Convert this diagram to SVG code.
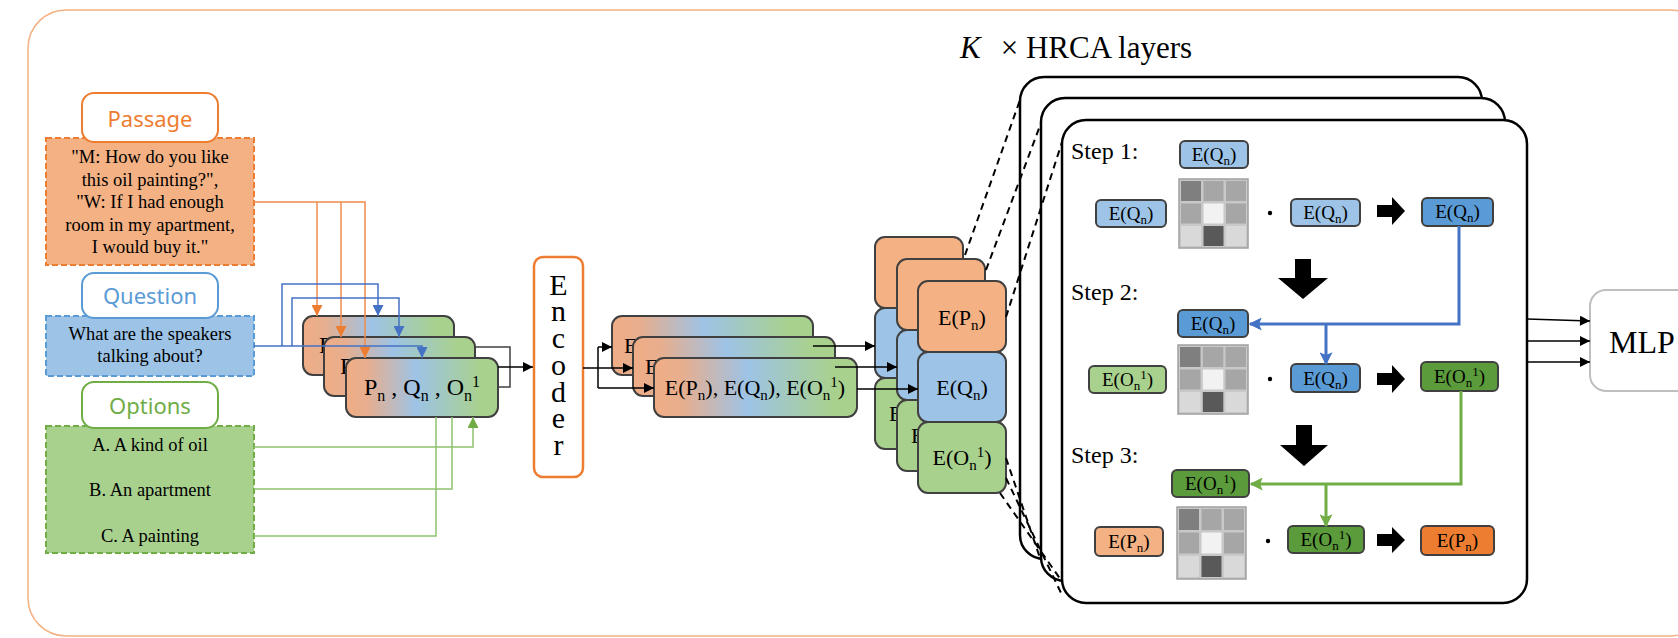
<svg xmlns="http://www.w3.org/2000/svg" width="1678" height="638" viewBox="0 0 1678 638">
<defs>
<linearGradient id="gr" x1="0" y1="0" x2="1" y2="0">
<stop offset="0" stop-color="#EFAD85"/>
<stop offset="0.14" stop-color="#E7AE8E"/>
<stop offset="0.46" stop-color="#9DC3E6"/>
<stop offset="0.88" stop-color="#A9D18E"/>
<stop offset="1" stop-color="#A9D18E"/>
</linearGradient>
<marker id="mk" viewBox="0 0 10 10" refX="10" refY="5" markerWidth="11" markerHeight="10" markerUnits="userSpaceOnUse" orient="auto"><path d="M0,0L10,5L0,10z" fill="#000"/></marker>
<marker id="mo" viewBox="0 0 10 10" refX="10" refY="5" markerWidth="11" markerHeight="11" markerUnits="userSpaceOnUse" orient="auto"><path d="M0,0L10,5L0,10z" fill="#ED7D31"/></marker>
<marker id="mb" viewBox="0 0 10 10" refX="10" refY="5" markerWidth="11" markerHeight="11" markerUnits="userSpaceOnUse" orient="auto"><path d="M0,0L10,5L0,10z" fill="#4472C4"/></marker>
<marker id="mg" viewBox="0 0 10 10" refX="10" refY="5" markerWidth="11" markerHeight="11" markerUnits="userSpaceOnUse" orient="auto"><path d="M0,0L10,5L0,10z" fill="#70AD47"/></marker>
<marker id="mbt" viewBox="0 0 10 10" refX="9" refY="5" markerWidth="13" markerHeight="13" markerUnits="userSpaceOnUse" orient="auto"><path d="M0,0L10,5L0,10L2,5z" fill="#4472C4"/></marker>
<marker id="mgt" viewBox="0 0 10 10" refX="9" refY="5" markerWidth="13" markerHeight="13" markerUnits="userSpaceOnUse" orient="auto"><path d="M0,0L10,5L0,10L2,5z" fill="#70AD47"/></marker>
</defs>
<style>
.sf{font-family:"Liberation Serif","Times New Roman",serif;fill:#000}
.ss{font-family:"Noto Sans","Liberation Sans",sans-serif}
.t18{font-size:18.5px}
.t19{font-size:19px}
.t22{font-size:22px}
.t24{font-size:24px}
.bx{stroke:#404040;stroke-width:2}
.sm{stroke:#404040;stroke-width:2}
.pan{fill:#fff;stroke:#000;stroke-width:2.5}
.lbl{fill:#fff;stroke-width:2}
.dsh{stroke-width:2;stroke-dasharray:6 3}
.cn{fill:none;stroke-width:1.5}
.cnk{fill:none;stroke:#000;stroke-width:1.5}
.dl{fill:none;stroke:#000;stroke-width:2;stroke-dasharray:7 5}
.mid{text-anchor:middle}
</style>

<rect id="frame" x="28" y="10" width="1680" height="626" rx="38" fill="none" stroke="#F4B183" stroke-width="1.5"/>

<g id="passage">
<rect x="46" y="138" width="208" height="127" fill="#F4B183" stroke="#ED7D31" class="dsh"/>
<g class="sf t18 mid">
<text x="150" y="163">"M: How do you like</text>
<text x="150" y="185.5">this oil painting?",</text>
<text x="150" y="208">"W: If I had enough</text>
<text x="150" y="230.5">room in my apartment,</text>
<text x="150" y="253">I would buy it."</text>
</g>
<rect x="82" y="93" width="136" height="49" rx="12" class="lbl" stroke="#ED7D31"/>
<text x="150" y="127" class="ss mid" font-size="22" fill="#ED7D31">Passage</text>
</g>

<g id="question">
<rect x="46" y="316" width="208" height="60" fill="#9DC3E6" stroke="#5B9BD5" class="dsh"/>
<text x="150" y="340" class="sf t18 mid">What are the speakers</text>
<text x="150" y="362" class="sf t18 mid">talking about?</text>
<rect x="82" y="273" width="136" height="45" rx="12" class="lbl" stroke="#5B9BD5"/>
<text x="150" y="304" class="ss mid" font-size="22" fill="#5B9BD5">Question</text>
</g>

<g id="options">
<rect x="46" y="426" width="208" height="127" fill="#A9D18E" stroke="#70AD47" class="dsh"/>
<text x="150" y="451" class="sf t18 mid">A. A kind of oil</text>
<text x="150" y="496" class="sf t18 mid">B. An apartment</text>
<text x="150" y="542" class="sf t18 mid">C. A painting</text>
<rect x="82" y="382" width="136" height="46" rx="12" class="lbl" stroke="#70AD47"/>
<text x="150" y="414" class="ss mid" font-size="22" fill="#70AD47">Options</text>
</g>

<g id="input-stack">
<rect x="303" y="316" width="151" height="59" rx="10" fill="url(#gr)" class="bx"/>
<text x="319" y="353" class="sf t24">P</text>
<rect x="324" y="337" width="151" height="59" rx="10" fill="url(#gr)" class="bx"/>
<text x="340" y="374" class="sf t24">P</text>
<rect x="346" y="358" width="152" height="59" rx="10" fill="url(#gr)" class="bx"/>
<text x="422" y="395" class="sf t24 mid">P<tspan dy="6" font-size="16">n</tspan><tspan dy="-6"> , Q</tspan><tspan dy="6" font-size="16">n</tspan><tspan dy="-6"> , O</tspan><tspan dy="6" font-size="16">n</tspan><tspan dy="-14" font-size="16">1</tspan></text>
</g>

<g id="encoder">
<rect x="534" y="257" width="49" height="220" rx="9" fill="#fff" stroke="#ED7D31" stroke-width="2.5"/>
<text class="sf mid" font-size="30"><tspan x="558.5" y="295">E</tspan><tspan x="558.5" y="321">n</tspan><tspan x="558.5" y="348">c</tspan><tspan x="558.5" y="375">o</tspan><tspan x="558.5" y="402">d</tspan><tspan x="558.5" y="428">e</tspan><tspan x="558.5" y="455">r</tspan></text>
</g>

<g id="encoded-stack">
<rect x="612" y="316" width="201" height="59" rx="10" fill="url(#gr)" class="bx"/>
<text x="624" y="353" class="sf t22">E</text>
<rect x="633" y="337" width="202" height="59" rx="10" fill="url(#gr)" class="bx"/>
<text x="645" y="374" class="sf t22">E</text>
<rect x="654" y="358" width="203" height="59" rx="10" fill="url(#gr)" class="bx"/>
<text x="755" y="395" class="sf t22 mid">E(P<tspan dy="5" font-size="15">n</tspan><tspan dy="-5">), E(Q</tspan><tspan dy="5" font-size="15">n</tspan><tspan dy="-5">), E(O</tspan><tspan dy="5" font-size="15">n</tspan><tspan dy="-13" font-size="15">1</tspan><tspan dy="8">)</tspan></text>
</g>

<g id="panel-1"><rect x="1020" y="77" width="462" height="482" rx="24" class="pan"/></g>
<g id="panel-2"><rect x="1041" y="98" width="464" height="483" rx="24" class="pan"/></g>
<g id="panel-3"><rect x="1062" y="120" width="465" height="483" rx="24" class="pan"/></g>

<g id="column-1">
<rect x="875" y="237" width="88" height="71" rx="10" fill="#F4B183" class="bx"/>
<rect x="875" y="308" width="88" height="70" rx="10" fill="#9DC3E6" class="bx"/>
<rect x="875" y="378" width="88" height="71" rx="10" fill="#A9D18E" class="bx"/>
<text x="889" y="421" class="sf t22">E</text>
</g>
<g id="column-2">
<rect x="897" y="259" width="88" height="71" rx="10" fill="#F4B183" class="bx"/>
<rect x="897" y="330" width="88" height="70" rx="10" fill="#9DC3E6" class="bx"/>
<rect x="897" y="400" width="88" height="71" rx="10" fill="#A9D18E" class="bx"/>
<text x="911" y="443" class="sf t22">E</text>
</g>
<g id="column-3">
<rect x="918" y="281" width="88" height="71" rx="10" fill="#F4B183" class="bx"/>
<text x="962" y="325" class="sf t22 mid">E(P<tspan dy="5" font-size="15">n</tspan><tspan dy="-5">)</tspan></text>
<rect x="918" y="352" width="88" height="70" rx="10" fill="#9DC3E6" class="bx"/>
<text x="962" y="395" class="sf t22 mid">E(Q<tspan dy="5" font-size="15">n</tspan><tspan dy="-5">)</tspan></text>
<rect x="918" y="422" width="88" height="71" rx="10" fill="#A9D18E" class="bx"/>
<text x="962" y="465" class="sf t22 mid">E(O<tspan dy="5" font-size="15">n</tspan><tspan dy="-13" font-size="15">1</tspan><tspan dy="8">)</tspan></text>
</g>

<g id="title"><text x="960" y="58" class="sf" font-size="31"><tspan font-style="italic">K</tspan><tspan dx="20">×</tspan> HRCA layers</text></g>

<g id="step-labels" class="sf t24">
<text x="1071" y="159">Step 1:</text>
<text x="1071" y="300">Step 2:</text>
<text x="1071" y="463">Step 3:</text>
</g>

<g id="step1">
<rect x="1180" y="141" width="68" height="27" rx="5" fill="#9DC3E6" class="sm"/>
<text x="1214" y="161" class="sf t19 mid">E(Q<tspan dy="4" font-size="13">n</tspan><tspan dy="-4">)</tspan></text>
<rect x="1096" y="200" width="70" height="27" rx="5" fill="#9DC3E6" class="sm"/>
<text x="1131" y="220" class="sf t19 mid">E(Q<tspan dy="4" font-size="13">n</tspan><tspan dy="-4">)</tspan></text>
<g transform="translate(1179,179)">
<rect width="69" height="69" fill="#C8C8C8" stroke="#A0A0A0" stroke-width="1.5"/>
<rect x="2" y="2" width="20" height="20" fill="#7F7F7F"/><rect x="24.5" y="2" width="20" height="20" fill="#A6A6A6"/><rect x="47" y="2" width="20" height="20" fill="#A6A6A6"/>
<rect x="2" y="24.5" width="20" height="20" fill="#A6A6A6"/><rect x="24.5" y="24.5" width="20" height="20" fill="#F2F2F2"/><rect x="47" y="24.5" width="20" height="20" fill="#A6A6A6"/>
<rect x="2" y="47" width="20" height="20" fill="#D9D9D9"/><rect x="24.5" y="47" width="20" height="20" fill="#595959"/><rect x="47" y="47" width="20" height="20" fill="#D9D9D9"/>
</g>
<circle cx="1270" cy="213" r="2.2" fill="#000"/>
<rect x="1291" y="199" width="69" height="27" rx="5" fill="#9DC3E6" class="sm"/>
<text x="1325.5" y="219" class="sf t19 mid">E(Q<tspan dy="4" font-size="13">n</tspan><tspan dy="-4">)</tspan></text>
<path d="M1377,205H1392V197L1405,211L1392,225V217H1377Z" fill="#000"/>
<rect x="1422" y="198" width="71" height="28" rx="5" fill="#5B9BD5" class="sm"/>
<text x="1457.5" y="218" class="sf t19 mid">E(Q<tspan dy="4" font-size="13">n</tspan><tspan dy="-4">)</tspan></text>
<path d="M1295,259H1311V278H1328L1303,299L1278,278H1295Z" fill="#000"/>
</g>

<g id="step2">
<rect x="1178" y="310" width="70" height="27" rx="5" fill="#5B9BD5" class="sm"/>
<text x="1213" y="330" class="sf t19 mid">E(Q<tspan dy="4" font-size="13">n</tspan><tspan dy="-4">)</tspan></text>
<rect x="1089" y="366" width="77" height="27" rx="5" fill="#A9D18E" class="sm"/>
<text x="1127.5" y="386" class="sf t19 mid">E(O<tspan dy="4" font-size="13">n</tspan><tspan dy="-11" font-size="13">1</tspan><tspan dy="7">)</tspan></text>
<g transform="translate(1178,345)">
<rect width="70" height="69" fill="#C8C8C8" stroke="#A0A0A0" stroke-width="1.5"/>
<rect x="2" y="2" width="20.5" height="20" fill="#7F7F7F"/><rect x="24.8" y="2" width="20.5" height="20" fill="#A6A6A6"/><rect x="47.5" y="2" width="20.5" height="20" fill="#A6A6A6"/>
<rect x="2" y="24.5" width="20.5" height="20" fill="#A6A6A6"/><rect x="24.8" y="24.5" width="20.5" height="20" fill="#F2F2F2"/><rect x="47.5" y="24.5" width="20.5" height="20" fill="#A6A6A6"/>
<rect x="2" y="47" width="20.5" height="20" fill="#D9D9D9"/><rect x="24.8" y="47" width="20.5" height="20" fill="#595959"/><rect x="47.5" y="47" width="20.5" height="20" fill="#D9D9D9"/>
</g>
<circle cx="1270" cy="379" r="2.2" fill="#000"/>
<rect x="1291" y="364" width="69" height="28" rx="5" fill="#5B9BD5" class="sm"/>
<text x="1325.5" y="384.5" class="sf t19 mid">E(Q<tspan dy="4" font-size="13">n</tspan><tspan dy="-4">)</tspan></text>
<path d="M1377,373H1392V365L1405,379L1392,393V385H1377Z" fill="#000"/>
<rect x="1421" y="362" width="77" height="29" rx="5" fill="#5B9B3B" class="sm"/>
<text x="1459.5" y="383" class="sf t19 mid">E(O<tspan dy="4" font-size="13">n</tspan><tspan dy="-11" font-size="13">1</tspan><tspan dy="7">)</tspan></text>
<path d="M1296,425H1312V445H1328L1304,466L1280,445H1296Z" fill="#000"/>
</g>

<g id="step3">
<rect x="1172" y="470" width="77" height="27" rx="5" fill="#5B9B3B" class="sm"/>
<text x="1210.5" y="490" class="sf t19 mid">E(O<tspan dy="4" font-size="13">n</tspan><tspan dy="-11" font-size="13">1</tspan><tspan dy="7">)</tspan></text>
<rect x="1095" y="527" width="68" height="29" rx="5" fill="#F4B183" class="sm"/>
<text x="1129" y="548" class="sf t19 mid">E(P<tspan dy="4" font-size="13">n</tspan><tspan dy="-4">)</tspan></text>
<g transform="translate(1177,507)">
<rect width="69" height="72" fill="#C8C8C8" stroke="#A0A0A0" stroke-width="1.5"/>
<rect x="2" y="2" width="20" height="21" fill="#7F7F7F"/><rect x="24.5" y="2" width="20" height="21" fill="#A6A6A6"/><rect x="47" y="2" width="20" height="21" fill="#A6A6A6"/>
<rect x="2" y="25.5" width="20" height="21" fill="#A6A6A6"/><rect x="24.5" y="25.5" width="20" height="21" fill="#F2F2F2"/><rect x="47" y="25.5" width="20" height="21" fill="#A6A6A6"/>
<rect x="2" y="49" width="20" height="21" fill="#D9D9D9"/><rect x="24.5" y="49" width="20" height="21" fill="#595959"/><rect x="47" y="49" width="20" height="21" fill="#D9D9D9"/>
</g>
<circle cx="1268" cy="541" r="2.2" fill="#000"/>
<rect x="1288" y="526" width="76" height="27" rx="5" fill="#5B9B3B" class="sm"/>
<text x="1326" y="546" class="sf t19 mid">E(O<tspan dy="4" font-size="13">n</tspan><tspan dy="-11" font-size="13">1</tspan><tspan dy="7">)</tspan></text>
<path d="M1377,534H1392V527L1405,540L1392,553V546H1377Z" fill="#000"/>
<rect x="1421" y="526" width="73" height="29" rx="5" fill="#ED7D31" class="sm"/>
<text x="1457.5" y="547" class="sf t19 mid">E(P<tspan dy="4" font-size="13">n</tspan><tspan dy="-4">)</tspan></text>
</g>

<g id="mlp">
<rect x="1590" y="290" width="130" height="101" rx="16" fill="#fff" stroke="#BFBFBF" stroke-width="2"/>
<text x="1609" y="353" class="sf" font-size="32">MLP</text>
</g>

<g id="connectors">
<path class="cn" stroke="#F08A4B" d="M254,202H365V358" marker-end="url(#mo)"/>
<path class="cn" stroke="#F08A4B" d="M341,202V337" marker-end="url(#mo)"/>
<path class="cn" stroke="#F08A4B" d="M317,202V316" marker-end="url(#mo)"/>
<path class="cn" stroke="#4472C4" d="M254,346H422V358" marker-end="url(#mb)"/>
<path class="cn" stroke="#4472C4" d="M282,346V284H378V316" marker-end="url(#mb)"/>
<path class="cn" stroke="#4472C4" d="M292,346V298H399V337" marker-end="url(#mb)"/>
<path class="cn" stroke="#8DC26F" d="M254,447H473V417" marker-end="url(#mg)"/>
<path class="cn" stroke="#8DC26F" d="M254,489H452V417"/>
<path class="cn" stroke="#8DC26F" d="M254,536H436V417"/>
<path class="cn" stroke="#404040" d="M475,347H510V387H498"/>
<path class="cnk" d="M498,367H533" marker-end="url(#mk)"/>
<path class="cnk" d="M583,368H633" marker-end="url(#mk)"/>
<path class="cnk" d="M598,347V388"/>
<path class="cnk" d="M598,347H612" marker-end="url(#mk)"/>
<path class="cnk" d="M598,388H654" marker-end="url(#mk)"/>
<path class="cnk" d="M813,346H875" marker-end="url(#mk)"/>
<path class="cnk" d="M835,367H897" marker-end="url(#mk)"/>
<path class="cnk" d="M857,389H918" marker-end="url(#mk)"/>
<path class="cnk" d="M1527,319L1590,321" marker-end="url(#mk)"/>
<path class="cnk" d="M1527,341H1590" marker-end="url(#mk)"/>
<path class="cnk" d="M1527,362H1590" marker-end="url(#mk)"/>
<path fill="none" stroke="#4472C4" stroke-width="3" d="M1459,226V324H1250" marker-end="url(#mbt)"/>
<path fill="none" stroke="#4472C4" stroke-width="3" d="M1326,324V364" marker-end="url(#mbt)"/>
<path fill="none" stroke="#70AD47" stroke-width="3" d="M1461,391V484H1251" marker-end="url(#mgt)"/>
<path fill="none" stroke="#70AD47" stroke-width="3" d="M1326,484V526" marker-end="url(#mgt)"/>
<path class="dl" d="M965,255L1020,100"/>
<path class="dl" d="M986,270L1041,123"/>
<path class="dl" d="M1006,317L1062,142"/>
<path class="dl" d="M1006,458L1040,558"/>
<path class="dl" d="M1000,493L1061,580"/>
<path class="dl" d="M1006,478L1062,595"/>
</g>
</svg>
